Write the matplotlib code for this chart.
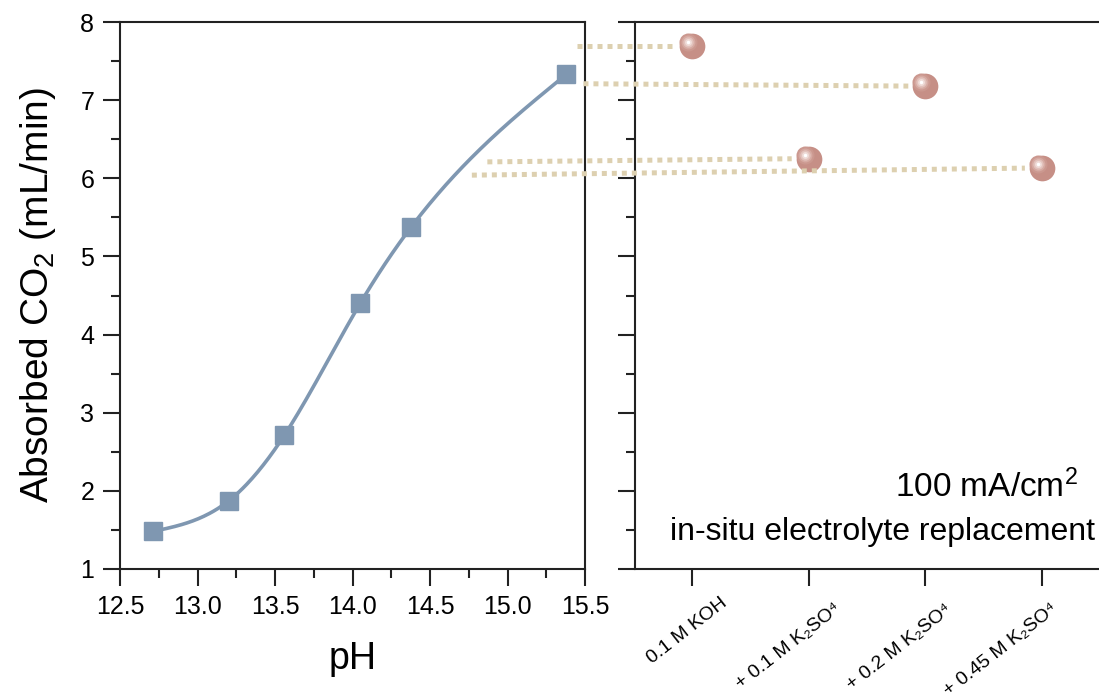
import numpy as np
import matplotlib
matplotlib.use("Agg")
import matplotlib.pyplot as plt
from matplotlib.lines import Line2D
from matplotlib.transforms import ScaledTranslation
from matplotlib.ticker import MultipleLocator, FormatStrFormatter

plt.rcParams['font.family'] = ['Liberation Sans', 'DejaVu Sans']
plt.rcParams['mathtext.fontset'] = 'custom'
plt.rcParams['mathtext.rm'] = 'Liberation Sans'
plt.rcParams['mathtext.it'] = 'Liberation Sans:italic'

# absorbed CO2 vs pH
ph = [12.71, 13.20, 13.56, 14.05, 14.38, 15.38]
co2 = [1.48, 1.87, 2.71, 4.40, 5.38, 7.33]

# in-situ electrolyte replacement
electrolytes = ['0.1 M KOH', '+ 0.1 M K\u2082SO\u2074', '+ 0.2 M K\u2082SO\u2074', '+ 0.45 M K\u2082SO\u2074']
co2_replaced = [7.69, 6.25, 7.18, 6.13]

# where each dotted guide leaves the pH panel
link_ph = [15.45, 14.87, 15.49, 14.77]
link_co2 = [7.69, 6.21, 7.21, 6.04]

line_color = '#7f97b1'
ball_color = '#c68f86'
guide_color = '#ddd0b0'
spine_color = '#222222'


def natural_spline(x, y, n=300):
    x = np.asarray(x, float)
    y = np.asarray(y, float)
    h = np.diff(x)
    m = len(x)
    A = np.zeros((m, m))
    b = np.zeros(m)
    A[0, 0] = A[-1, -1] = 1
    for i in range(1, m - 1):
        A[i, i - 1] = h[i - 1]
        A[i, i] = 2 * (h[i - 1] + h[i])
        A[i, i + 1] = h[i]
        b[i] = 6 * ((y[i + 1] - y[i]) / h[i] - (y[i] - y[i - 1]) / h[i - 1])
    M = np.linalg.solve(A, b)
    xs = np.linspace(x[0], x[-1], n)
    idx = np.clip(np.searchsorted(x, xs) - 1, 0, m - 2)
    x0, x1 = x[idx], x[idx + 1]
    hh = x1 - x0
    ys = (M[idx] * (x1 - xs) ** 3 / (6 * hh) + M[idx + 1] * (xs - x0) ** 3 / (6 * hh)
          + (y[idx] / hh - M[idx] * hh / 6) * (x1 - xs)
          + (y[idx + 1] / hh - M[idx + 1] * hh / 6) * (xs - x0))
    return xs, ys


fig = plt.figure(figsize=(10.99, 7.0), dpi=100)
ax1 = fig.add_axes([120 / 1099, 131 / 700, 465 / 1099, 547 / 700])
ax2 = fig.add_axes([635 / 1099, 131 / 700, 464 / 1099, 547 / 700])

for ax in (ax1, ax2):
    for s in ax.spines.values():
        s.set_linewidth(1.5)
        s.set_color(spine_color)
    ax.set_ylim(1, 8)
    ax.yaxis.set_major_locator(MultipleLocator(1))
    ax.yaxis.set_minor_locator(MultipleLocator(0.5))
    ax.tick_params(which='major', direction='out', length=12.5, width=1.5, color=spine_color)
    ax.tick_params(which='minor', direction='out', length=6.3, width=1.5, color=spine_color)

# left panel
xs, ys = natural_spline(ph, co2)
ax1.plot(xs, ys, color=line_color, lw=2.6, zorder=2)
ax1.plot(ph, co2, 's', color=line_color, ms=13, zorder=3)
ax1.set_xlim(12.5, 15.5)
ax1.xaxis.set_major_locator(MultipleLocator(0.5))
ax1.xaxis.set_minor_locator(MultipleLocator(0.25))
ax1.xaxis.set_major_formatter(FormatStrFormatter('%.1f'))
ax1.tick_params(labelsize=18, pad=6)
ax1.set_xlabel('pH', fontsize=27, labelpad=16)
ax1.set_ylabel('Absorbed CO$_2$ (mL/min)', fontsize=28, labelpad=16)

# right panel
ax2.spines['right'].set_visible(False)
ax2.set_xlim(-0.49, 3.49)
ax2.set_xticks(range(len(electrolytes)))
ax2.tick_params(axis='x', which='minor', bottom=False)
ax2.set_xticklabels([])
ax2.tick_params(axis='y', labelleft=False)

cats = np.arange(len(electrolytes))
ax2.plot(cats, co2_replaced, 'o', color=ball_color, ms=18.5, mec='none', zorder=4)
# glossy highlight on each ball
shine = ScaledTranslation(-2.8 / 72, 2.8 / 72, fig.dpi_scale_trans)
for ms, c in [(13, '#cb988f'), (10, '#d6aaa2'), (7.5, '#e2c2bc'), (5, '#efdcd8'), (2.5, '#ffffff')]:
    ax2.plot(cats, co2_replaced, 'o', color=c, ms=ms, mec='none', zorder=5,
             transform=ax2.transData + shine)

label_dx = [28, 25, 19, 8]
label_dy = [-25, -31, -32, -32]
for i, lab in enumerate(electrolytes):
    off = ScaledTranslation(label_dx[i] / 100, label_dy[i] / 100, fig.dpi_scale_trans)
    ax2.text(i, 0, lab, transform=ax2.get_xaxis_transform() + off, fontsize=14,
             rotation=38, ha='right', va='top', rotation_mode='anchor')

ax2.text(0.955, 1.92, '100 mA/cm$^2$', transform=ax2.get_yaxis_transform(),
         fontsize=24, ha='right', va='baseline')
ax2.text(0.991, 1.37, 'in-situ electrolyte replacement', transform=ax2.get_yaxis_transform(),
         fontsize=23, ha='right', va='baseline')

# dotted guides from the pH curve to each electrolyte
to_fig = fig.transFigure.inverted()
for i in range(len(electrolytes)):
    p0 = ax1.transData.transform((link_ph[i], link_co2[i]))
    p1 = ax2.transData.transform((cats[i], co2_replaced[i])) - np.array([17, 0])
    (x0, y0), (x1, y1) = to_fig.transform([p0, p1])
    fig.add_artist(Line2D([x0, x1], [y0, y1], transform=fig.transFigure,
                          color=guide_color, lw=3.6, dashes=(1.0, 1.0),
                          dash_capstyle='butt', zorder=1))

fig.savefig('out.png', dpi=100)
